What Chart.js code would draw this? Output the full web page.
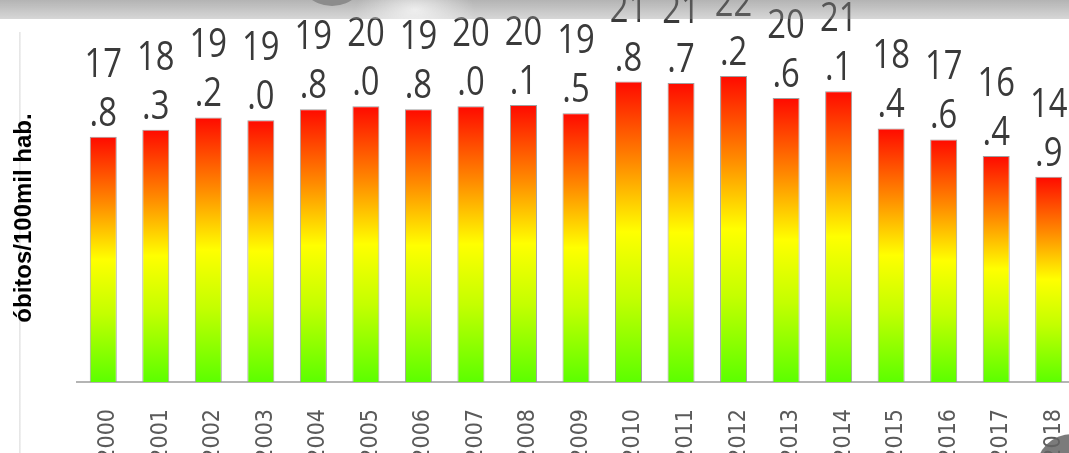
<!DOCTYPE html>
<html>
<head>
<meta charset="utf-8">
<script src="https://cdn.jsdelivr.net/npm/chart.js@4"></script>
<style>
  html, body { margin: 0; padding: 0; overflow: hidden; background: #fff; }
  #wrap { position: relative; width: 1080px; height: 453px; }
  #chart { position: relative; z-index: 1; }
  .band { position: absolute; z-index: 2; left: 0; top: 0; width: 1080px; height: 19px;
    background: radial-gradient(ellipse 60px 30px at 415px 10px, rgba(255,255,255,0.7), rgba(255,255,255,0)),
                linear-gradient(rgba(110,110,110,0.52), rgba(150,150,150,0.38)); }
  .dot { position: absolute; z-index: 3; border-radius: 50%; }
  .edge { position: absolute; z-index: 0; left: 19px; top: 32px; width: 2px; height: 421px;
    background: linear-gradient(to right, #e2e2e2, #f3f3f3); }
</style>
</head>
<body>
<div id="wrap">
  <div class="edge"></div>
  <canvas id="chart"></canvas>
  <div class="band"></div>
  <div class="dot" style="left:296px;top:-66px;width:72px;height:72px;background:#8c8c8c;"></div>
  <div class="dot" style="left:1036px;top:434px;width:72px;height:72px;background:rgba(100,100,100,0.85);"></div>
</div>
<script>
// data
const years = ["2000", "2001", "2002", "2003", "2004", "2005", "2006", "2007", "2008", "2009",
  "2010", "2011", "2012", "2013", "2014", "2015", "2016", "2017", "2018"];
const rates = [17.8, 18.3, 19.2, 19.0, 19.8, 20.0, 19.8, 20.0, 20.1, 19.5,
  21.8, 21.7, 22.2, 20.6, 21.1, 18.4, 17.6, 16.4, 14.9];
const yTitle = "óbitos/100mil hab.";

// red on top, yellow in the middle, green at the base of each bar
function barGradient(context) {
  const chart = context.chart;
  const y = chart.scales.y;
  if (!chart.chartArea || !y) return "#ff0000";
  const top = y.getPixelForValue(context.raw);
  const bottom = y.getPixelForValue(0);
  const g = chart.ctx.createLinearGradient(0, top, 0, bottom);
  g.addColorStop(0, "#ff0a00");
  g.addColorStop(0.27, "#ff8a00");
  g.addColorStop(0.5, "#ffff00");
  g.addColorStop(0.72, "#c4ff00");
  g.addColorStop(1, "#5cff00");
  return g;
}

// two-line value labels: "17" over ".8"
const valueLabels = {
  id: "valueLabels",
  afterDatasetsDraw(chart) {
    const ctx = chart.ctx;
    const meta = chart.getDatasetMeta(0);
    ctx.save();
    ctx.fillStyle = "#3a3a3a";
    ctx.font = "41px 'Open Sans'";
    ctx.textAlign = "center";
    ctx.textBaseline = "alphabetic";
    meta.data.forEach((bar, i) => {
      const parts = rates[i].toFixed(1).split(".");
      [[parts[0], 60], ["." + parts[1], 11]].forEach(([txt, off]) => {
        ctx.save();
        ctx.translate(bar.x, bar.y - off);
        ctx.scale(0.8, 1);
        ctx.fillText(txt, 0, 0);
        ctx.restore();
      });
    });
    ctx.restore();
  },
};

new Chart(document.getElementById("chart"), {
  type: "bar",
  data: {
    labels: years,
    datasets: [
      {
        data: rates,
        backgroundColor: barGradient,
        borderColor: "rgba(150,150,150,0.9)",
        borderWidth: 1,
        categoryPercentage: 1,
        barPercentage: 0.514,
      },
    ],
  },
  options: {
    responsive: true,
    maintainAspectRatio: false,
    animation: false,
    layout: { padding: { left: 10, top: 54, right: 5, bottom: 0 } },
    plugins: {
      legend: { display: false },
      tooltip: { enabled: false },
    },
    scales: {
      x: {
        grid: { display: false, drawTicks: false },
        border: { display: true, color: "#b4b4b4", width: 2 },
        ticks: {
          autoSkip: false,
          minRotation: 90,
          maxRotation: 90,
          padding: 27,
          labelOffset: 5,
          color: "#5a5a5a",
          font: { family: "'Liberation Sans Narrow', 'DejaVu Sans Condensed', sans-serif", size: 23 },
        },
        afterFit(scale) {
          scale.height = 71;
          scale.paddingLeft = 0;
          scale.paddingRight = 0;
        },
      },
      y: {
        min: 0,
        max: 23.8,
        grid: { display: false, drawTicks: false },
        border: { display: false },
        ticks: { display: false },
        title: {
          display: true,
          text: yTitle,
          color: "#000",
          padding: { top: 0, bottom: 0 },
          font: { family: "'Liberation Sans', Arial, sans-serif", size: 24, weight: "bold" },
        },
        afterFit(scale) {
          scale.width = 67;
          scale.paddingTop = 0;
          scale.paddingBottom = 0;
        },
      },
    },
  },
  plugins: [valueLabels],
});
</script>
</body>
</html>
